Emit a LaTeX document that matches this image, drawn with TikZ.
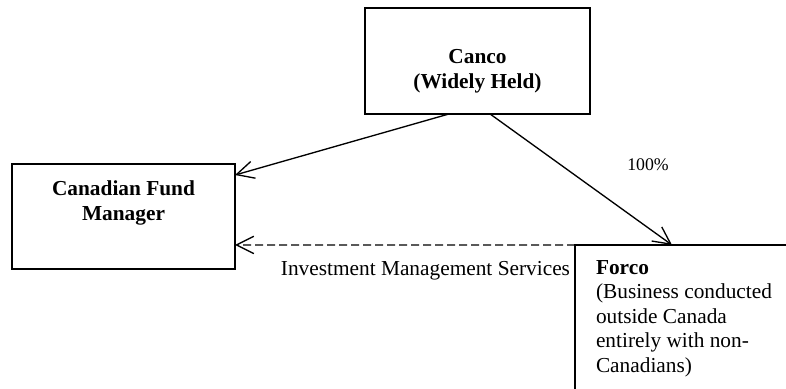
\documentclass[tikz,border=0pt]{standalone}
\usepackage{fontspec}
\setmainfont{Liberation Serif}
\usetikzlibrary{arrows.meta,calc}
\begin{document}
\begin{tikzpicture}[x=0.75pt,y=-0.75pt,
  box/.style={draw,line width=0.8pt,rectangle,inner sep=0pt,outer sep=0pt},
  big/.style={font=\fontsize{16}{18.4}\selectfont},
  bigb/.style={font=\fontsize{16}{18.4}\selectfont\bfseries},
  conn/.style={line width=1pt,-{Straight Barb[length=13pt,width=13pt,line width=1pt]}},
  txt/.style={inner sep=0pt,outer sep=0pt}]
\clip (0,0) rectangle (786,389);
\fill[white] (0,0) rectangle (786,389);
% boxes
\node[box,minimum width=168.75pt,minimum height=79.5pt] (canco) at (477.5,61) {};
\node[box,minimum width=167.25pt,minimum height=78.75pt] (cfm) at (123.5,216.5) {};
\node[box,minimum width=168.75pt,minimum height=116.25pt] (forco) at (687.5,322.5) {};
% texts
\node[txt,bigb,align=center] (cancoT) at (477.5,71) {Canco\\(Widely Held)};
\node[txt,bigb,align=center] (cfmT) at (123.5,203) {Canadian Fund\\Manager};
\node[txt,big,align=left,anchor=west] (forcoT) at (596,318.6) {\textbf{Forco}\\(Business conducted\\outside Canada\\entirely with non-\\Canadians)};
% connectors
\draw[conn] ($(canco.south west)!0.373!(canco.south east)$) -- ($(cfm.north east)!0.105!(cfm.south east)$);
\draw[conn] ($(canco.south west)!0.556!(canco.south east)$) -- ($(forco.north west)+(97,0)$);
\draw[conn,dash pattern=on 6pt off 3pt] (forco.north west) -- ($(cfm.north east)!0.771!(cfm.south east)$);
% labels
\node[txt,big,anchor=base east] (ims) at (570,275) {Investment Management Services};
\node[txt,font=\fontsize{13.33}{15.3}\selectfont,anchor=base] (pct) at (648,170) {100\%};
\end{tikzpicture}
\end{document}
